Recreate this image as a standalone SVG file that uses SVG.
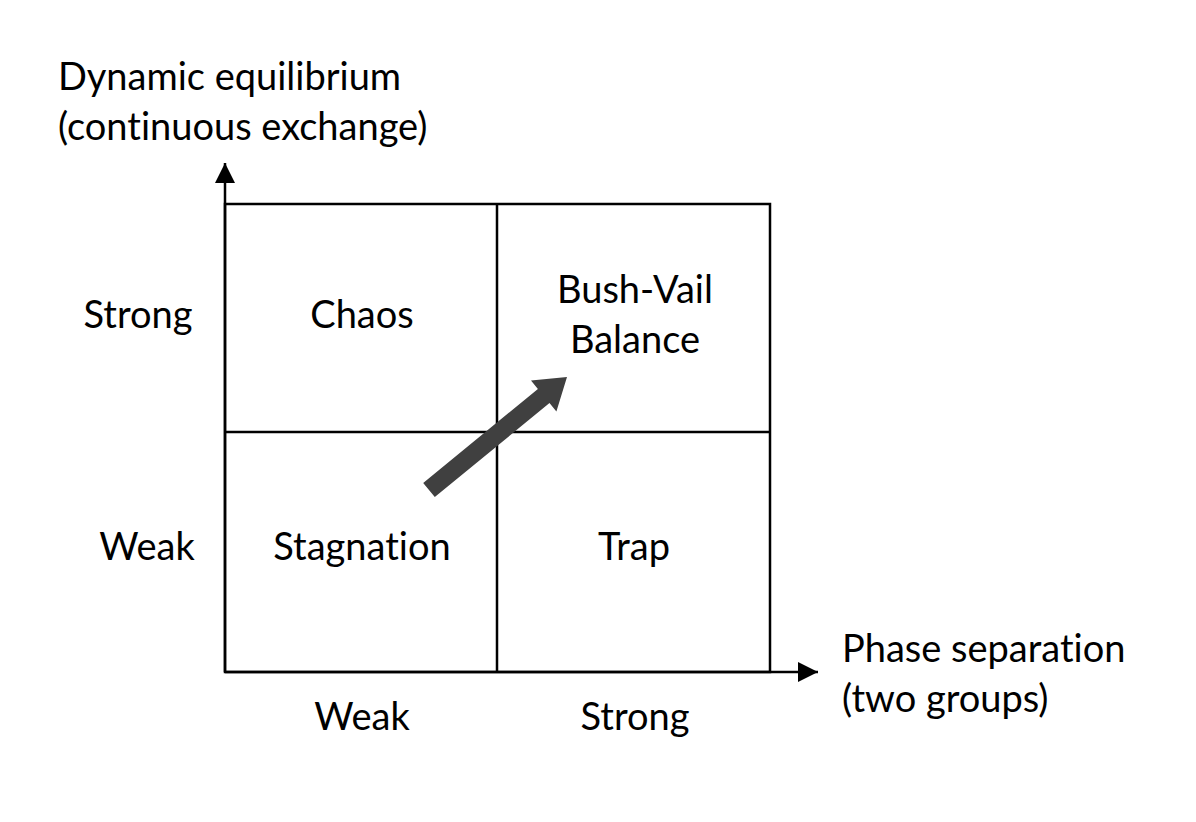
<svg xmlns="http://www.w3.org/2000/svg" width="1196" height="822" viewBox="0 0 1196 822">
<style>
text{font-family:Lato,"Open Sans","Liberation Sans",sans-serif;font-size:38px;fill:#000;font-variant-ligatures:none}
.c{text-anchor:middle}
.ln{stroke:#000;stroke-width:2.5;fill:none}
</style>
<defs>
<marker id="ah2" viewBox="0 0 20 20" refX="20" refY="10" markerWidth="20" markerHeight="20" orient="auto" markerUnits="userSpaceOnUse">
<path d="M0,0 L20,10 L0,20 z" fill="#000"/>
</marker>
</defs>
<rect width="1196" height="822" fill="#fff"/>
<g id="grid">
<rect class="ln" x="225" y="204" width="545" height="468"/>
<line class="ln" x1="497" y1="204" x2="497" y2="672"/>
<line class="ln" x1="225" y1="432" x2="770" y2="432"/>
</g>
<g id="connectors">
<line class="ln" x1="225" y1="672" x2="225" y2="163" marker-end="url(#ah2)"/>
<line class="ln" x1="225" y1="672" x2="818" y2="672" marker-end="url(#ah2)"/>
<polygon points="423.2,482.9 434.8,497.1 549.5,403.1 556.4,411.5 567,377 531,380.5 537.9,388.9" fill="#404040"/>
</g>
<g id="y-axis-label"><text x="58" y="90">Dynamic equilibrium</text><text x="58" y="140">(continuous exchange)</text></g>
<g id="x-axis-label"><text x="842" y="662">Phase separation</text><text x="842" y="712">(two groups)</text></g>
<g id="row-strong"><text class="c" x="138" y="328">Strong</text></g>
<g id="row-weak"><text class="c" x="147" y="560">Weak</text></g>
<g id="col-weak"><text class="c" x="362" y="730">Weak</text></g>
<g id="col-strong"><text class="c" x="635" y="730">Strong</text></g>
<g id="chaos"><text class="c" x="362" y="328">Chaos</text></g>
<g id="bush-vail"><text class="c" x="635" y="303">Bush-Vail</text><text class="c" x="635" y="353">Balance</text></g>
<g id="stagnation"><text class="c" x="362" y="560">Stagnation</text></g>
<g id="trap"><text class="c" x="634" y="560">Trap</text></g>
</svg>
